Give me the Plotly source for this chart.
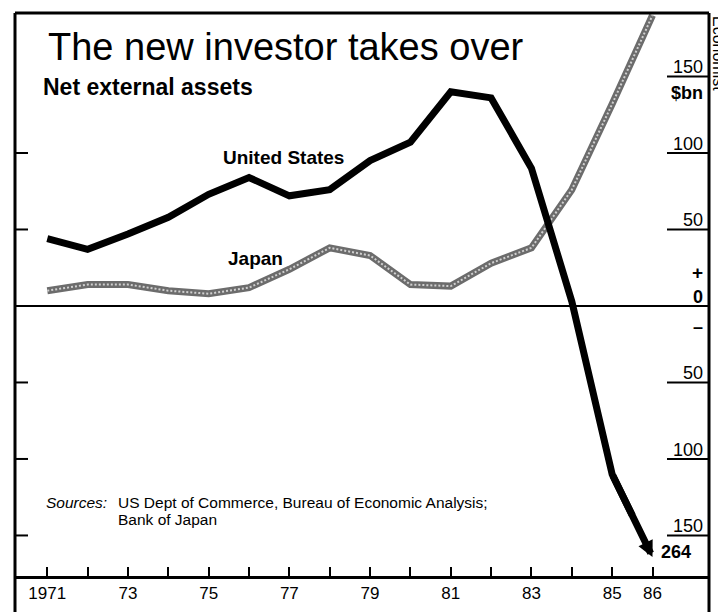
import plotly.graph_objects as go

# ---- data ----
years = list(range(1971, 1987))
us_values = [44, 37, 47, 58, 73, 84, 72, 76, 95, 107, 140, 136, 90, 3, -110, -264]
japan_values = [10, 14, 14, 10, 8, 12, 24, 38, 33, 14, 13, 28, 38, 76, 132, 190]
us_arrow_floor = -164          # where the off-scale 1986 arrow stops on the chart
year_tick_labels = ["1971", "", "73", "", "75", "", "77", "", "79", "", "81", "", "83", "", "85", "86"]
right_tick_values = [150, 100, 50, -50, -100, -150]
right_tick_labels = ["150", "100", "50", "50", "100", "150"]
left_tick_values = [100, 50, -50, -100, -150]

# ---- layout geometry (reference pixel frame; page body adds an 8px offset) ----
OFF = 8
W, H = 726 - OFF, 612 - OFF
FRAME_L, FRAME_R, FRAME_T, AXIS_B = 15, 709, 13, 576
ML, MT = FRAME_L - OFF, FRAME_T - OFF
MR, MB = W - (FRAME_R - OFF), H - (AXIS_B - OFF)
PW, PH = FRAME_R - FRAME_L, AXIS_B - FRAME_T
X_RANGE = [1970.2, 1987.4]
Y_RANGE = [-176.5, 191.5]

def px(xp):
    return (xp - FRAME_L) / PW

def py(yp):
    return (AXIS_B - yp) / PH

FONT = "Liberation Sans, Arial, Helvetica, sans-serif"

fig = go.Figure()

# Japan: textured grey band
fig.add_trace(go.Scatter(x=years, y=japan_values, mode="lines",
                         line=dict(color="#6c6c6c", width=7), hoverinfo="skip", showlegend=False))
fig.add_trace(go.Scatter(x=years, y=japan_values, mode="lines",
                         line=dict(color="#d0d0d0", width=2, dash="2px,2px"), hoverinfo="skip", showlegend=False))

# United States: solid to 1985, then half of the last segment, arrow on top
x_mid = years[-2] + 0.5 * (years[-1] - years[-2])
y_mid = us_values[-2] + 0.5 * (us_arrow_floor - us_values[-2])
fig.add_trace(go.Scatter(x=years[:-1] + [x_mid], y=us_values[:-1] + [y_mid], mode="lines",
                         line=dict(color="black", width=7), hoverinfo="skip", showlegend=False))

ann = []
shapes = []

ann.append(dict(x=years[-1], y=us_arrow_floor, ax=years[-2], ay=us_values[-2],
                xref="x", yref="y", axref="x", ayref="y", text="", showarrow=True,
                arrowhead=2, arrowsize=0.45, arrowwidth=7, arrowcolor="black", standoff=0, startstandoff=0))
ann.append(dict(x=years[-1] + 0.15, y=us_arrow_floor + 3, xref="x", yref="y",
                text="<b>" + str(abs(us_values[-1])) + "</b>",
                showarrow=False, xanchor="left", yanchor="middle", font=dict(size=18, family=FONT, color="black")))

# Series labels
ann.append(dict(x=1976.85, y=97, xref="x", yref="y", text="<b>United States</b>", showarrow=False,
                font=dict(size=19, family=FONT, color="black")))
ann.append(dict(x=1976.15, y=31, xref="x", yref="y", text="<b>Japan</b>", showarrow=False,
                font=dict(size=19, family=FONT, color="black")))

# Titles
ann.append(dict(x=px(46), y=py(47), xref="paper", yref="paper", text="The new investor takes over",
                showarrow=False, xanchor="left", yanchor="middle", font=dict(size=38, family=FONT, color="black")))
ann.append(dict(x=px(41), y=py(87), xref="paper", yref="paper", text="<b>Net external assets</b>",
                showarrow=False, xanchor="left", yanchor="middle", font=dict(size=23, family=FONT, color="black")))

# Sources
SRC = 15.5
ann.append(dict(x=px(44), y=py(502), xref="paper", yref="paper", text="<i>Sources:</i>",
                showarrow=False, xanchor="left", yanchor="middle", font=dict(size=SRC, family=FONT, color="black")))
ann.append(dict(x=px(116), y=py(502), xref="paper", yref="paper",
                text="US Dept of Commerce, Bureau of Economic Analysis;",
                showarrow=False, xanchor="left", yanchor="middle", font=dict(size=SRC, family=FONT, color="black")))
ann.append(dict(x=px(116), y=py(519), xref="paper", yref="paper", text="Bank of Japan",
                showarrow=False, xanchor="left", yanchor="middle", font=dict(size=SRC, family=FONT, color="black")))

# Right-hand scale
for v, lab in zip(right_tick_values, right_tick_labels):
    shapes.append(dict(type="line", xref="paper", yref="y", x0=px(667), x1=1, y0=v, y1=v,
                       line=dict(color="black", width=2)))
    ann.append(dict(x=px(705), y=v, xref="paper", yref="y", text=lab, showarrow=False,
                    xanchor="right", yanchor="bottom", yshift=-3,
                    font=dict(size=18, family=FONT, color="black")))
for v in left_tick_values:
    shapes.append(dict(type="line", xref="paper", yref="y", x0=0, x1=px(28), y0=v, y1=v,
                       line=dict(color="black", width=2)))

ann.append(dict(x=px(705), y=139, xref="paper", yref="y", text="<b>$bn</b>", showarrow=False,
                xanchor="right", yanchor="middle", font=dict(size=18, family=FONT, color="black")))
ann.append(dict(x=px(705), y=22, xref="paper", yref="y", text="<b>+</b>", showarrow=False,
                xanchor="right", yanchor="middle", font=dict(size=19, family=FONT, color="black")))
ann.append(dict(x=px(705), y=6, xref="paper", yref="y", text="<b>0</b>", showarrow=False,
                xanchor="right", yanchor="middle", font=dict(size=18, family=FONT, color="black")))
ann.append(dict(x=px(705), y=-14, xref="paper", yref="y", text="<b>\u2013</b>", showarrow=False,
                xanchor="right", yanchor="middle", font=dict(size=18, family=FONT, color="black")))

# Publisher mark (rotated, in the right margin)
ann.append(dict(x=px(718), y=py(54), xref="paper", yref="paper", text="Economist", showarrow=False,
                textangle=90, xanchor="center", yanchor="middle", font=dict(size=16, family=FONT, color="black")))

# Zero line and frame
shapes.append(dict(type="line", xref="paper", yref="y", x0=0, x1=1, y0=0, y1=0,
                   line=dict(color="black", width=2)))
shapes.append(dict(type="line", xref="paper", yref="paper", x0=0, x1=1, y0=1, y1=1,
                   line=dict(color="black", width=3)))
shapes.append(dict(type="line", xref="paper", yref="paper", x0=0, x1=0, y0=-0.1, y1=1,
                   line=dict(color="black", width=3)))
shapes.append(dict(type="line", xref="paper", yref="paper", x0=1, x1=1, y0=-0.1, y1=1,
                   line=dict(color="black", width=3)))

fig.update_layout(
    width=W, height=H,
    margin=dict(l=ML, r=MR, t=MT, b=MB, pad=0),
    paper_bgcolor="white", plot_bgcolor="white",
    showlegend=False,
    annotations=ann, shapes=shapes,
    xaxis=dict(range=X_RANGE, tickvals=years, ticktext=year_tick_labels,
               ticks="inside", ticklen=9, tickwidth=1.5, tickcolor="black",
               showline=True, linecolor="black", linewidth=2.5,
               showgrid=False, zeroline=False,
               tickfont=dict(size=17, family=FONT, color="black")),
    yaxis=dict(range=Y_RANGE, showticklabels=False, showgrid=False, zeroline=False, ticks=""),
)

fig.write_html("out.html")
